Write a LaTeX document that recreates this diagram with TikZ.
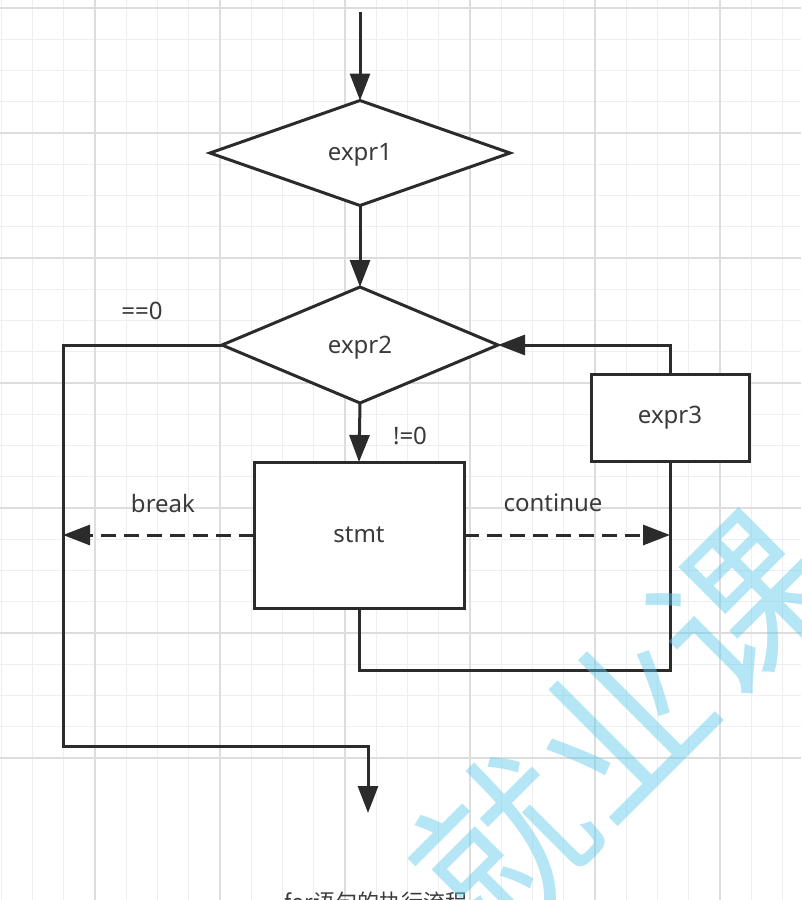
\documentclass[tikz,border=0pt]{standalone}
\usepackage{fontspec}
\setmainfont{Noto Sans}
\newfontfamily\cjk{Noto Sans CJK SC}
\usetikzlibrary{shapes.geometric,arrows.meta}
\definecolor{ink}{HTML}{2B2B2B}
\definecolor{txt}{HTML}{3A3A3A}
\definecolor{gmaj}{HTML}{DDDDDD}
\definecolor{gmin}{HTML}{EFEFEF}
\definecolor{wm}{HTML}{5CC8EC}
\begin{document}
\begin{tikzpicture}[x=1pt,y=-1pt,
  shapeline/.style={draw=ink, line width=3pt, fill=white},
  dia/.style={shapeline, diamond, inner sep=0pt, outer sep=0pt},
  box/.style={shapeline, rectangle, inner sep=0pt, outer sep=0pt},
  lbl/.style={text=txt, font=\fontsize{24}{28}\selectfont, inner sep=0pt},
  conn/.style={draw=ink, line width=3pt},
  arr/.style={conn, -{Triangle[length=27pt,width=20pt]}},
  dashline/.style={dash pattern=on 15pt off 8pt},
  majgrid/.style={draw=gmaj, line width=1.2pt},
  mingrid/.style={draw=gmin, line width=0.8pt}]
\useasboundingbox (0,0) rectangle (801,900);
\clip (0,0) rectangle (801,900);
\fill[white] (0,0) rectangle (801,900);
% grid
\foreach \i in {-4,...,23} {
  \draw[mingrid] ({95+31.25*\i},0) -- ({95+31.25*\i},900);
  \draw[mingrid] (0,{8+31.25*\i}) -- (801,{8+31.25*\i});
}
\foreach \i in {-1,...,6} {
  \draw[majgrid] ({95+125*\i},0) -- ({95+125*\i},900);
  \draw[majgrid] (0,{8+125*\i}) -- (801,{8+125*\i});
}
% nodes
\node[dia, minimum width=300pt, minimum height=105pt] (e1) at (360,153) {};
\node[lbl] at ([yshift=-2pt]e1.center) {expr1};
\node[dia, minimum width=276pt, minimum height=116pt] (e2) at (360,345) {};
\node[lbl] at ([yshift=-3pt]e2.center) {expr2};
\node[box, minimum width=210pt, minimum height=146pt, lbl, text=txt] (stmt) at (359,535) {stmt};
\node[box, minimum width=158pt, minimum height=87pt, lbl, text=txt] (e3) at (670,418) {expr3};
\coordinate (start) at (360,12);
\coordinate (L) at (63,746);
\coordinate (R) at (670,670);
\coordinate (end) at (368,813);
% connectors
\draw[arr] (start) -- (e1.north);
\draw[arr] (e1.south) -- (e2.north);
\draw[arr] (e2.south) -- (stmt.north);
\draw[arr] (e2.west) -| (L) -| (end);
\draw[conn] (stmt.south) |- (R) -- (e3.south);
\draw[arr] (e3.north) |- (e2.east);
\draw[arr, dashline] (stmt.west) -- (stmt.west -| L);
\draw[arr, dashline] (stmt.east) -- (stmt.east -| R);
% labels
\node[lbl] (lz) at (142,311) {==0};
\node[lbl] (lnz) at (410,436) {!=0};
\node[lbl] (lbr) at (163,503) {break};
\node[lbl] (lco) at (553,503) {continue};
\node[text=txt, font=\cjk\fontsize{22}{26}\selectfont, inner sep=0pt] (cap) at (376,902) {for语句的执行流程};
% watermark
\node[rotate=45, text=wm, opacity=0.45, inner sep=0pt, font=\cjk\fontsize{170}{170}\selectfont] (wmk) at (622,725) {就业课};
\end{tikzpicture}
\end{document}
